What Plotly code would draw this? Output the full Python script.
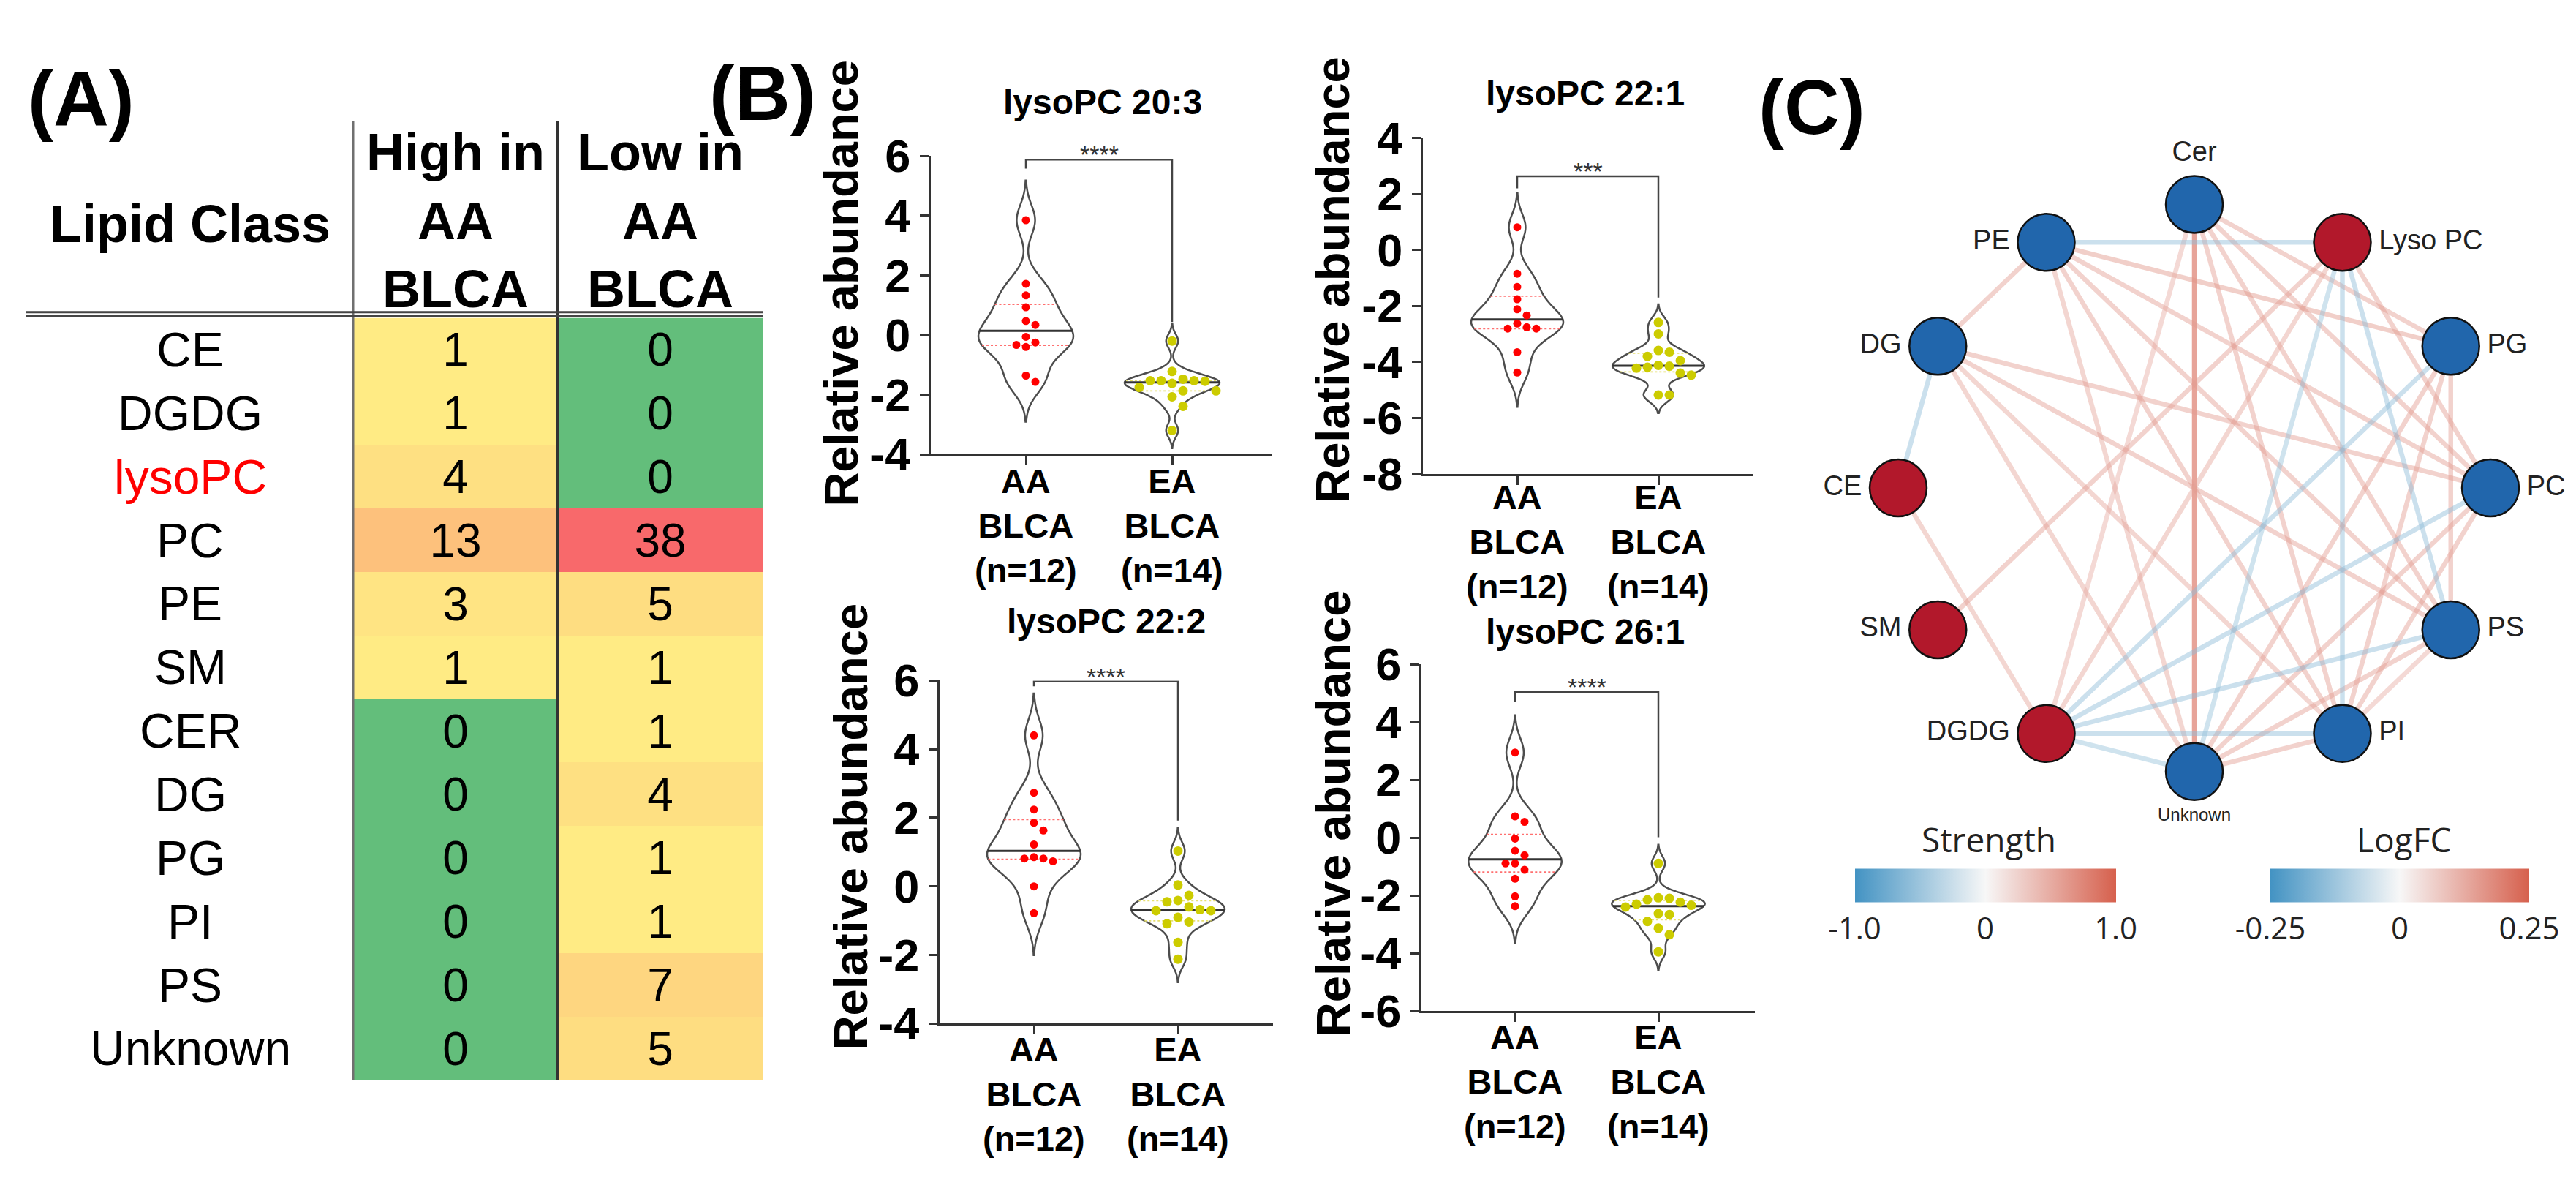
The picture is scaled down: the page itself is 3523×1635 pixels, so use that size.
import numpy as np
import plotly.graph_objects as go

W, H = 3523, 1635
FONT = "Liberation Sans, Arial, sans-serif"
CB_FONT = "Open Sans, Liberation Sans, sans-serif"

# ---------------- Panel A data ----------------
lipid_classes = ["CE", "DGDG", "lysoPC", "PC", "PE", "SM", "CER", "DG", "PG", "PI", "PS", "Unknown"]
high_in_aa = [1, 1, 4, 13, 3, 1, 0, 0, 0, 0, 0, 0]
low_in_aa = [0, 0, 0, 38, 5, 1, 1, 4, 1, 1, 7, 5]
table_headers = ["High in<br>AA<br>BLCA", "Low in<br>AA<br>BLCA"]
first_header = "Lipid Class"
highlighted_class = "lysoPC"

# ---------------- Panel B data ----------------
violin_titles = ["lysoPC 20:3", "lysoPC 22:1", "lysoPC 22:2", "lysoPC 26:1"]
group_labels = ["AA<br>BLCA<br>(n=12)", "EA<br>BLCA<br>(n=14)"]
significance = ["****", "***", "****", "****"]
y_ranges = [(-4, 6), (-8, 4), (-4, 6), (-6, 6)]

aa_lysopc_20_3 = [3.85, 1.72, 1.33, 0.93, 0.47, 0.34, -0.06, -0.25, -0.33, -0.40, -1.36, -1.57]
ea_lysopc_20_3 = [-0.20, -1.22, -1.48, -1.53, -1.53, -1.53, -1.55, -1.62, -1.75, -1.87, -1.87, -2.07, -2.39, -3.20]
aa_lysopc_22_1 = [0.81, -0.85, -1.32, -1.76, -2.12, -2.34, -2.63, -2.76, -2.81, -2.81, -3.65, -4.38]
ea_lysopc_22_1 = [-2.59, -3.00, -3.59, -3.65, -3.80, -3.95, -4.12, -4.15, -4.19, -4.22, -4.40, -4.47, -5.18, -5.18]
aa_lysopc_22_2 = [4.40, 2.73, 2.24, 1.85, 1.63, 1.22, 0.85, 0.81, 0.81, 0.73, 0.00, -0.78]
ea_lysopc_22_2 = [1.03, 0.04, -0.26, -0.41, -0.45, -0.60, -0.68, -0.71, -0.71, -0.90, -1.04, -1.09, -1.63, -2.12]
aa_lysopc_26_1 = [2.95, 0.74, 0.55, -0.03, -0.45, -0.61, -0.89, -0.89, -1.11, -1.42, -2.03, -2.37]
ea_lysopc_26_1 = [-0.89, -2.08, -2.10, -2.15, -2.23, -2.30, -2.34, -2.40, -2.63, -2.66, -2.90, -3.13, -3.36, -3.95]

# ---------------- Panel C data ----------------
net_nodes = ["Cer", "Lyso PC", "PG", "PC", "PS", "PI", "Unknown", "DGDG", "SM", "CE", "DG", "PE"]
node_logfc = [-0.3, 0.3, -0.3, -0.3, -0.3, -0.3, -0.3, 0.3, 0.3, 0.3, -0.3, -0.3]
edge_from = ["Cer", "Cer", "Cer", "Cer", "Cer", "PE", "PE", "PE", "PE", "PE", "PE",
             "DG", "DG", "DG", "DG", "CE", "Lyso PC", "Lyso PC", "Lyso PC", "PG", "PG", "PG",
             "PC", "PC", "PS", "PI", "PS", "DGDG",
             "PE", "DG", "Lyso PC", "Lyso PC", "Lyso PC", "PG", "PC", "PS", "PI", "Unknown"]
edge_to = ["Unknown", "PG", "PC", "PS", "PI", "DG", "PG", "PC", "PS", "PI", "Unknown",
           "PC", "PS", "PI", "Unknown", "DGDG", "SM", "DGDG", "PC", "PI", "Unknown", "PS",
           "PI", "Unknown", "Unknown", "Unknown", "PI", "Cer",
           "Lyso PC", "CE", "PI", "PS", "Unknown", "DGDG", "DGDG", "DGDG", "DGDG", "DGDG"]
edge_strength = [0.95, 0.6, 0.6, 0.6, 0.6, 0.6, 0.65, 0.6, 0.6, 0.6, 0.55,
                 0.6, 0.6, 0.55, 0.55, 0.55, 0.6, 0.55, 0.6, 0.6, 0.6, 0.6,
                 0.6, 0.6, 0.6, 0.6, 0.5, 0.5,
                 -0.6, -0.6, -0.6, -0.6, -0.55, -0.6, -0.6, -0.6, -0.6, -0.55]


def fx(x):
    return x / W


def fy(y):
    return 1 - y / H


def ann(x, y, text, size, color="black", family=FONT, **kw):
    d = dict(x=x, y=y, xref="paper", yref="paper", text=text, showarrow=False,
             xanchor="center", yanchor="middle",
             font=dict(family=family, size=size, color=color))
    d.update(kw)
    return d


fig = go.Figure()
annotations = []
shapes = []
layout = dict(width=W, height=H, margin=dict(l=0, r=0, t=0, b=0, pad=0), autosize=False,
              paper_bgcolor="white", plot_bgcolor="white", showlegend=False,
              violinmode="overlay", violingap=0, violingroupgap=0)

# ================= Panel A =================
z = [[h, l] for h, l in zip(high_in_aa, low_in_aa)]
fig.add_trace(go.Heatmap(
    z=z, x=[0, 1], y=list(range(len(lipid_classes))),
    colorscale=[[0, "#63BE7B"], [1 / 38, "#FFEB84"], [1, "#F8696B"]],
    zmin=0, zmax=38, showscale=False, texttemplate="%{z}",
    textfont=dict(family=FONT, size=64, color="black"), hoverinfo="skip",
    xaxis="x", yaxis="y"))
layout["xaxis"] = dict(domain=[fx(475), fx(1035)], range=[-0.5, 1.5], visible=False)
layout["yaxis"] = dict(domain=[fy(1498), fy(409)], range=[len(lipid_classes) - 0.5, -0.5],
                       visible=False)
for i, name in enumerate(lipid_classes):
    annotations.append(ann(fx(252), i, name, 66,
                           color="#FF0000" if name == highlighted_class else "black",
                           yref="y"))
annotations.append(ann(fx(252), fy(275), "<b>" + first_header + "</b>", 72))
for j, hdr in enumerate(table_headers):
    annotations.append(ann(fx(615 + 280 * j), fy(270), "<b>" + hdr + "</b>", 72))
shapes.append(dict(type="line", xref="paper", yref="paper", x0=fx(475), x1=fx(475),
                   y0=fy(128), y1=fy(1498), line=dict(color="#707070", width=3)))
shapes.append(dict(type="line", xref="paper", yref="paper", x0=fx(755), x1=fx(755),
                   y0=fy(128), y1=fy(1498), line=dict(color="#333333", width=4)))
for yy in (401, 407):
    shapes.append(dict(type="line", xref="paper", yref="paper", x0=fx(28), x1=fx(1035),
                       y0=fy(yy), y1=fy(yy), line=dict(color="#454545", width=3)))
annotations.append(ann(fx(103), fy(97), "<b>(A)</b>", 105))

# ================= Panel B =================
panels_b = [
    dict(vals=(aa_lysopc_20_3, ea_lysopc_20_3), xl=1265, xr=1732, c0=1395, sp=200,
         ybot=604, ytop=178, title=(1500, 101), ytitle=(1143, 360), cat_y=706,
         bracket=(5.58, 5.88, 0.44)),
    dict(vals=(aa_lysopc_22_1, ea_lysopc_22_1), xl=1938, xr=2389, c0=2067, sp=193,
         ybot=632, ytop=152, title=(2160, 88), ytitle=(1815, 355), cat_y=729,
         bracket=(2.2, 2.63, -1.7)),
    dict(vals=(aa_lysopc_22_2, ea_lysopc_22_2), xl=1277, xr=1733, c0=1406, sp=197,
         ybot=1417, ytop=927, title=(1505, 843), ytitle=(1155, 1136), cat_y=1517,
         bracket=(5.83, 5.97, 1.92)),
    dict(vals=(aa_lysopc_26_1, ea_lysopc_26_1), xl=1936, xr=2392, c0=2064, sp=196,
         ybot=1399, ytop=904, title=(2160, 857), ytitle=(1815, 1117), cat_y=1500,
         bracket=(4.71, 5.04, 0.02)),
]
dot_colors = ["#FF0000", "#CCCC00"]
dot_sizes = [11, 13]
quart_colors = ["#FF7070", "#E6E070"]
VW = 0.65


def density_ratio(vals, bw, span, ys):
    v = np.asarray(vals, dtype=float)[:, None]
    grid = np.linspace(span[0], span[1], 600)
    dens = lambda y: np.exp(-0.5 * ((np.asarray(y, dtype=float)[None, :] - v) / bw) ** 2).sum(axis=0)
    return dens(ys) / dens(grid).max()


def swarm_offsets(vals, ppu_y, ppu_x, d):
    vals = np.asarray(vals, dtype=float)
    order = np.argsort(-vals)
    placed = []
    xs = np.zeros(len(vals))
    for i in order:
        yp = vals[i] * ppu_y
        for k in [0, 1, -1, 2, -2, 3, -3, 4, -4, 5, -5]:
            xp = k * d
            if all((xp - a) ** 2 + (yp - b) ** 2 >= d * d for a, b in placed):
                break
        placed.append((xp, yp))
        xs[i] = xp / ppu_x
    return xs


for idx, p in enumerate(panels_b):
    k = idx + 2
    xa, ya = f"x{k}", f"y{k}"
    ymin, ymax = y_ranges[idx]
    ppu_y = (p["ybot"] - p["ytop"]) / (ymax - ymin)
    layout[f"xaxis{k}"] = dict(
        domain=[fx(p["xl"]), fx(p["xr"])],
        range=[(p["xl"] - p["c0"]) / p["sp"], (p["xr"] - p["c0"]) / p["sp"]],
        anchor=ya, tickvals=[0, 1], ticktext=["", ""], ticks="outside", ticklen=12,
        tickwidth=3, tickcolor="#333", showline=True, linewidth=3, linecolor="#333",
        showgrid=False, zeroline=False)
    tv = list(range(ymin, ymax + 1, 2))
    layout[f"yaxis{k}"] = dict(
        domain=[fy(p["ybot"]), fy(p["ytop"])], range=[ymin, ymax], anchor=xa,
        tickvals=tv, ticktext=[str(v) for v in tv], ticks="outside", ticklen=12,
        tickwidth=3, tickcolor="#333", showline=True, linewidth=3, linecolor="#333",
        showgrid=False, zeroline=False,
        tickfont=dict(family=FONT, size=63, color="black", weight="bold"))
    for g, vals in enumerate(p["vals"]):
        arr = np.asarray(vals, dtype=float)
        bw = 0.35 * arr.std(ddof=1)
        span = [arr.min() - 2.6 * bw, arr.max() + 2.6 * bw]
        fig.add_trace(go.Violin(
            x0=g, y=vals, xaxis=xa, yaxis=ya, width=VW, bandwidth=bw, spanmode="manual",
            span=span, scalemode="width", points=False, fillcolor="white",
            line=dict(color="#4d4d4d", width=2.5), hoverinfo="skip",
            box=dict(visible=False), meanline=dict(visible=False), name=group_labels[g]))
        q1, med, q3 = np.percentile(arr, [25, 50, 75])
        r = density_ratio(arr, bw, span, [q1, med, q3])
        for lvl, rr, is_med in ((q1, r[0], False), (q3, r[2], False), (med, r[1], True)):
            hw = 0.5 * VW * rr
            fig.add_trace(go.Scatter(
                x=[g - hw, g + hw], y=[lvl, lvl], xaxis=xa, yaxis=ya, mode="lines",
                line=dict(color="#333333" if is_med else quart_colors[g],
                          width=3 if is_med else 1.8, dash="solid" if is_med else "dot"),
                hoverinfo="skip"))
        offs = swarm_offsets(arr, ppu_y, p["sp"], dot_sizes[g] + 2)
        fig.add_trace(go.Scatter(
            x=g + offs, y=arr, xaxis=xa, yaxis=ya, mode="markers", cliponaxis=False,
            marker=dict(color=dot_colors[g], size=dot_sizes[g], line=dict(width=0)),
            hoverinfo="skip"))
        annotations.append(dict(x=g, y=fy(p["cat_y"]), xref=xa, yref="paper",
                                text="<b>" + group_labels[g] + "</b>", showarrow=False,
                                xanchor="center", yanchor="middle",
                                font=dict(family=FONT, size=47, color="black")))
    b0, b1, b2 = p["bracket"]
    fig.add_trace(go.Scatter(x=[0, 0, 1, 1], y=[b0, b1, b1, b2], xaxis=xa, yaxis=ya,
                             mode="lines", line=dict(color="#444", width=2.5),
                             hoverinfo="skip"))
    annotations.append(dict(x=0.5, y=b1, xref=xa, yref=ya, text=significance[idx],
                            showarrow=False, xanchor="center", yanchor="bottom", yshift=-14,
                            font=dict(family=FONT, size=34, color="#333")))
    annotations.append(ann(fx(p["title"][0]), fy(p["title"][1]),
                           "<b>" + violin_titles[idx] + "</b>", 48))
    annotations.append(ann(fx(p["ytitle"][0]), fy(p["ytitle"][1]),
                           "<b>Relative abundance</b>", 65, textangle=-90))

annotations.append(ann(fx(1035), fy(88), "<b>(B)</b>", 105))

# ================= Panel C =================
layout["xaxis6"] = dict(domain=[fx(2400), 1], range=[2400, W], visible=False, anchor="y6")
layout["yaxis6"] = dict(domain=[fy(1180), fy(130)], range=[1180, 130], visible=False,
                        anchor="x6")
cx, cy, rad = 2993, 652, 405
n = len(net_nodes)
ang = np.deg2rad(90 - 360.0 / n * np.arange(n))
node_x = cx + rad * np.cos(ang)
node_y = cy - rad * np.sin(ang)
pos = {name: (node_x[i], node_y[i]) for i, name in enumerate(net_nodes)}


def mix(c1, c2, t):
    return tuple(a + (b - a) * t for a, b in zip(c1, c2))


WHITE = (247, 247, 247)
RED_END = (214, 96, 77)
BLUE_END = (67, 147, 195)


def strength_color(s, alpha):
    c = mix(WHITE, RED_END if s > 0 else BLUE_END, min(abs(s), 1))
    return "rgba(%d,%d,%d,%.2f)" % (c[0], c[1], c[2], alpha)


for a, b, s in zip(edge_from, edge_to, edge_strength):
    (x0, y0), (x1, y1) = pos[a], pos[b]
    fig.add_trace(go.Scatter(x=[x0, x1], y=[y0, y1], xaxis="x6", yaxis="y6", mode="lines",
                             line=dict(color=strength_color(s, 0.45 if abs(s) < 0.9 else 0.6),
                                       width=6.5), hoverinfo="skip"))

tpos, tsize = [], []
for i in range(n):
    c, sn = np.cos(ang[i]), np.sin(ang[i])
    if sn > 0.95:
        tpos.append("top center"); tsize.append(38)
    elif sn < -0.95:
        tpos.append("bottom center"); tsize.append(24)
    elif c < 0:
        tpos.append("middle left"); tsize.append(38)
    else:
        tpos.append("middle right"); tsize.append(38)
fig.add_trace(go.Scatter(
    x=node_x, y=node_y, xaxis="x6", yaxis="y6", mode="markers+text", text=net_nodes,
    textposition=tpos, textfont=dict(family=FONT, size=tsize, color="#222"),
    cliponaxis=False,
    marker=dict(size=78, color=["#B2182B" if v > 0 else "#2166AC" for v in node_logfc],
                line=dict(color="#111", width=2.5)),
    hoverinfo="skip"))

cscale = [[0, "#4393C3"], [0.5, "#F7F7F7"], [1, "#D6604D"]]
for title, lo, hi, ticks, labels, xc, ln in (
        ("Strength", -1.0, 1.0, [-1, 0, 1], ["-1.0", "0", "1.0"], 2707, 357),
        ("LogFC", -0.25, 0.25, [-0.25, 0, 0.25], ["-0.25", "0", "0.25"], 3274, 354)):
    fig.add_trace(go.Scatter(
        x=[2400], y=[130], xaxis="x6", yaxis="y6", mode="markers", hoverinfo="skip",
        marker=dict(size=1, opacity=0, color=[lo], cmin=lo, cmax=hi, colorscale=cscale,
                    showscale=True,
                    colorbar=dict(orientation="h", x=fx(xc), xanchor="center",
                                  y=fy(1249), yanchor="middle", len=ln, lenmode="pixels",
                                  thickness=46, thicknessmode="pixels", outlinewidth=0,
                                  xpad=0, ypad=0, tickvals=ticks, ticktext=labels, ticks="",
                                  tickfont=dict(family=CB_FONT, size=42, color="#222")))))
    annotations.append(ann(fx(xc + 5), fy(1153), title, 46, color="#222", family=CB_FONT))

annotations.append(ann(fx(2470), fy(108), "<b>(C)</b>", 105))

layout["annotations"] = annotations
layout["shapes"] = shapes
fig.update_layout(**layout)
fig.write_html("out.html")
